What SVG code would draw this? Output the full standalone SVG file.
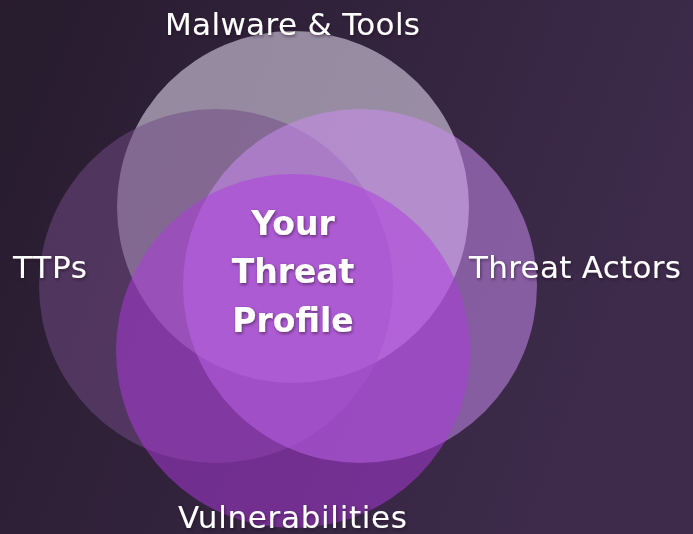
<svg xmlns="http://www.w3.org/2000/svg" width="693" height="534" viewBox="0 0 693 534">
  <defs>
    <linearGradient id="bg" x1="0" y1="0" x2="1" y2="0.3">
      <stop offset="0" stop-color="#271b2d"/>
      <stop offset="1" stop-color="#3e2b4c"/>
    </linearGradient>
    <filter id="shadow" x="-10%" y="-20%" width="120%" height="150%">
      <feDropShadow dx="1" dy="1.5" stdDeviation="1.5" flood-color="#1a0f20" flood-opacity="0.55"/>
    </filter>
    <style>
      .circle { stroke: none; }
      .label { font-family: "DejaVu Sans", "Liberation Sans", sans-serif; font-size: 31px; fill: #ffffff; filter: url(#shadow); }
      .center { font-family: "DejaVu Sans", "Liberation Sans", sans-serif; font-size: 33px; font-weight: bold; fill: #ffffff; text-anchor: middle; filter: url(#shadow); }
    </style>
  </defs>
  <rect x="0" y="0" width="693" height="534" fill="url(#bg)"/>
  <g id="malware-tools">
    <circle class="circle" cx="293" cy="207" r="176" fill="#ebe2f5" fill-opacity="0.55"/>
  </g>
  <g id="ttps">
    <circle class="circle" cx="216" cy="286" r="177" fill="#714b87" fill-opacity="0.52"/>
  </g>
  <g id="threat-actors">
    <circle class="circle" cx="360" cy="286" r="177" fill="#cd8df4" fill-opacity="0.52"/>
  </g>
  <g id="vulnerabilities">
    <circle class="circle" cx="293" cy="351" r="177" fill="#b039e0" fill-opacity="0.5"/>
  </g>
  <g id="connectors"></g>
  <g id="labels">
    <text class="label" x="165" y="35" textLength="255">Malware &amp; Tools</text>
    <text class="label" x="13" y="278" textLength="74">TTPs</text>
    <text class="label" x="469" y="278" textLength="212">Threat Actors</text>
    <text class="label" x="178" y="528" textLength="229">Vulnerabilities</text>
  </g>
  <g id="your-threat-profile">
    <text class="center" x="293" y="235">Your</text>
    <text class="center" x="293" y="283">Threat</text>
    <text class="center" x="293" y="332">Profile</text>
  </g>
</svg>
